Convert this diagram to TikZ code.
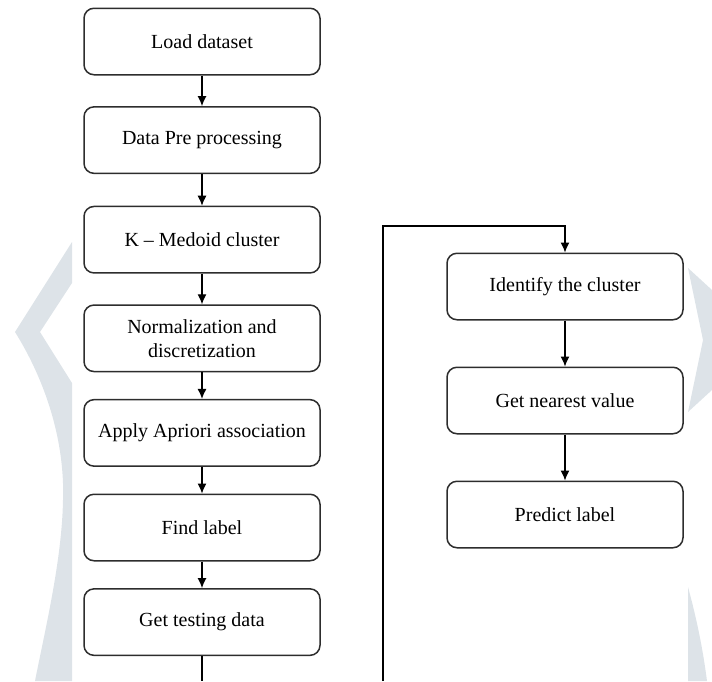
\documentclass[tikz,border=0pt]{standalone}
\usepackage{fontspec}
\setmainfont{Liberation Serif}
\usepackage{tikz}
\usetikzlibrary{arrows.meta,positioning}
\definecolor{wmgray}{RGB}{221,227,232}
\definecolor{linegray}{RGB}{45,45,45}

\begin{document}
\begin{tikzpicture}[x=0.5pt,y=-0.5pt,
  every node/.style={font=\fontsize{10}{12}\selectfont},
  stepbox/.style={draw=linegray,line width=0.75pt,rounded corners=5pt,
                  minimum width=118pt,minimum height=33.25pt,align=center,fill=white},
  flow/.style={-{Latex[length=5pt,width=4.5pt]},line width=0.6pt,black},
  wm/.style={fill=wmgray,draw=none}]

\useasboundingbox (0,0) rectangle (712,681);

% --- watermark, left and right
\fill[wm] (72,242) -- (15,332) .. controls (45,380) and (65,440) .. (63,500)
  .. controls (62,560) and (45,630) .. (35,681) -- (72,681) -- (72,383)
  -- (40,332) -- (72,283) -- cycle;
\fill[wm] (688,268) -- (712,290) -- (712,390) -- (688,412) -- (703,340) -- cycle;
\fill[wm] (688,587) .. controls (697,620) and (703,650) .. (707,681) -- (688,681) -- cycle;

% --- training side
\node[stepbox] (load) at (202,41.5) {Load dataset};
\node[stepbox,below=15.3pt of load] (prep) {Data Pre processing};
\node[stepbox,below=15.8pt of prep] (kmed) {K -- Medoid cluster};
\node[stepbox,below=15.3pt of kmed] (norm) {Normalization and\\discretization};
\node[stepbox,below=13.3pt of norm] (apri) {Apply Apriori association};
\node[stepbox,below=13.3pt of apri] (flab) {Find label};
\node[stepbox,below=13.3pt of flab] (gtest) {Get testing data};

% --- testing side
\node[stepbox] (ident) at (565,286.5) {Identify the cluster};
\node[stepbox,below=23pt of ident] (near) {Get nearest value};
\node[stepbox,below=23pt of near] (pred) {Predict label};

\coordinate (lb) at (383,681);
\coordinate (lt) at (383,226);

\draw[flow] (load) -- (prep);
\draw[flow] (prep) -- (kmed);
\draw[flow] (kmed) -- (norm);
\draw[flow] (norm) -- (apri);
\draw[flow] (apri) -- (flab);
\draw[flow] (flab) -- (gtest);
\draw[line width=0.6pt] (gtest) -- (gtest.south |- lb);
\draw[flow] (lb) -- (lt) -| (ident);
\draw[flow] (ident) -- (near);
\draw[flow] (near) -- (pred);
\end{tikzpicture}
\end{document}
